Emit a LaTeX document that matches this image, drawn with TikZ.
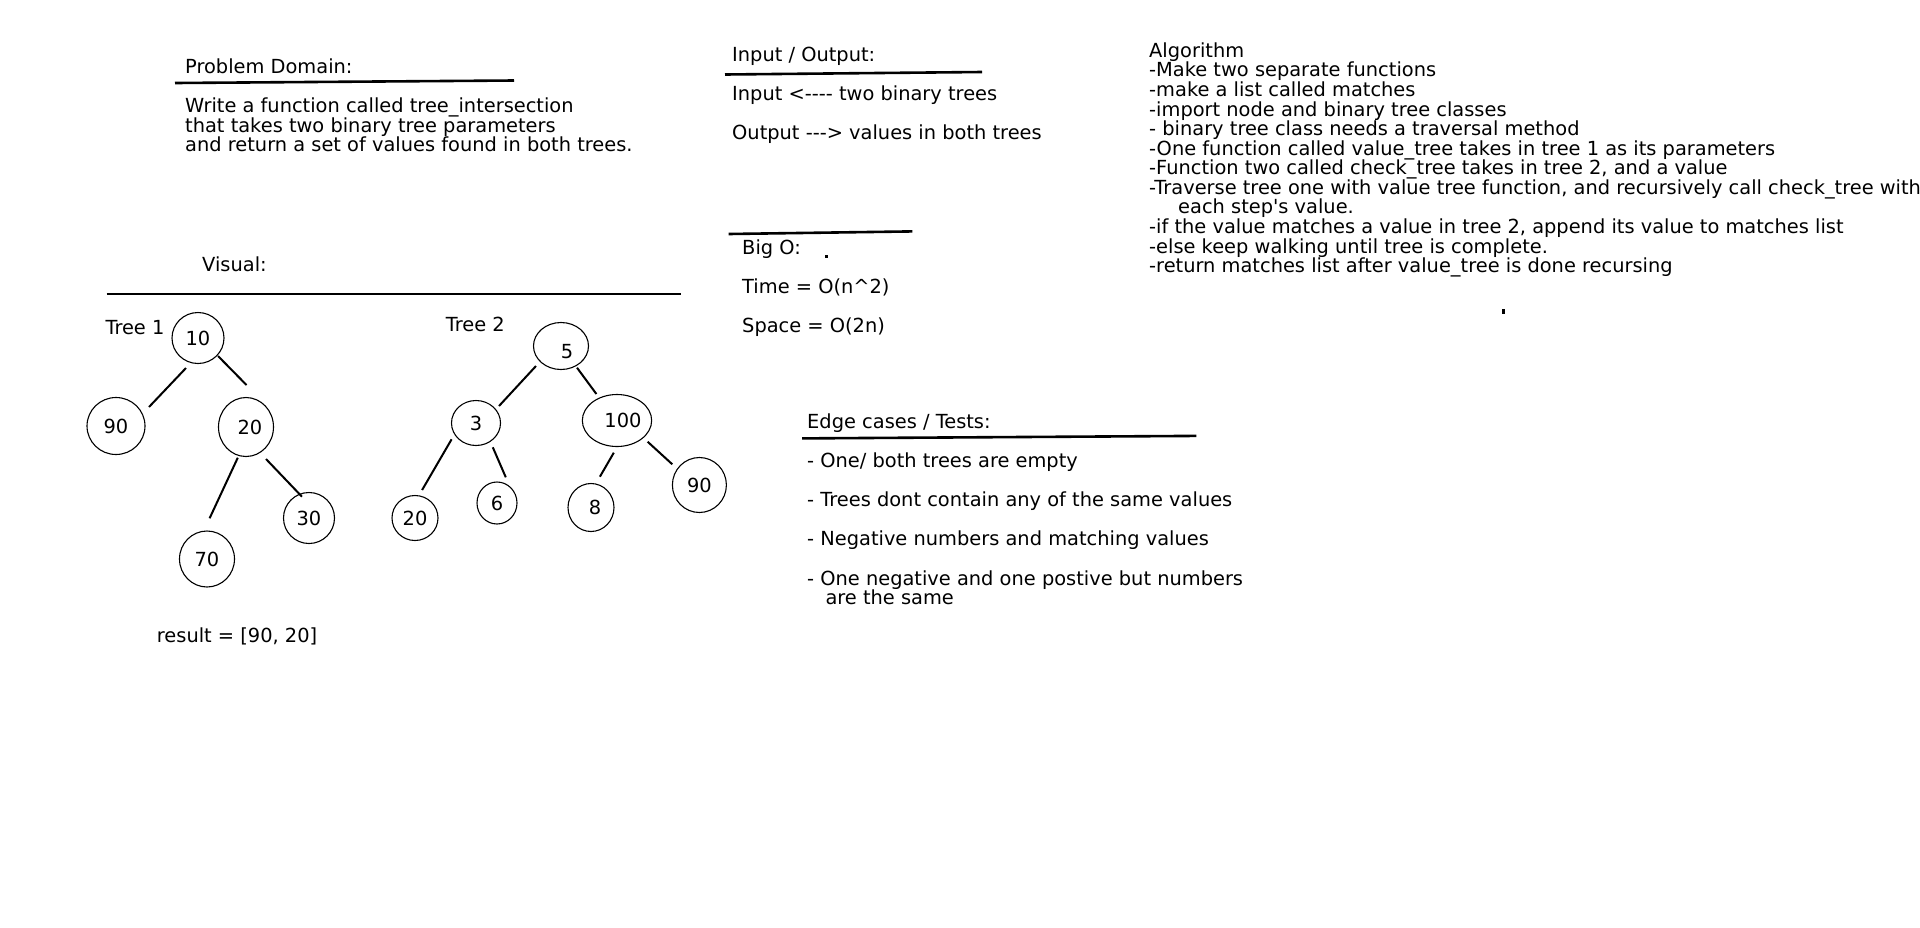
\documentclass[tikz,border=0pt]{standalone}
\usepackage{fontspec}
\newfontfamily\dvsans{DejaVu Sans}
\usetikzlibrary{shapes.geometric}
\begin{document}
\begin{tikzpicture}[x=1pt,y=-1pt,
  txt/.style={anchor=base west,inner sep=0pt,font=\dvsans\fontsize{19.4}{19.6}\selectfont},
  rule/.style={line width=2.6pt},
  treeedge/.style={line width=2pt},
  tnode/.style={draw,ellipse,inner sep=0pt,line width=1.1pt,font=\dvsans\fontsize{19.4}{19.6}\selectfont}]
\useasboundingbox[fill=white] (0,0) rectangle (1920,927);

% Problem domain
\node[txt] (pdh) at (185,73) {Problem Domain:};
\draw[rule] (175,83) -- (514,80.5);
\node[txt] (pd1) at (185,112.5) {Write a function called tree\_intersection};
\node[txt] (pd2) at (185,132) {that takes two binary tree parameters};
\node[txt] (pd3) at (185,151.5) {and return a set of values found in both trees.};

% Input / Output
\node[txt] (ioh) at (732,61) {Input / Output:};
\draw[rule] (725,74.5) -- (982,72);
\node[txt] (io1) at (732,100) {Input <---- two binary trees};
\node[txt] (io2) at (732,139) {Output ---> values in both trees};

% Big O
\draw[rule] (728.6,234) -- (912.3,231.4);
\node[txt] (boh) at (742,254) {Big O:};
\fill (825,255) rectangle (828,258);
\node[txt] (bo1) at (742,293.5) {Time = O(n\textasciicircum 2)};
\node[txt] (bo2) at (742,332.7) {Space = O(2n)};

% Algorithm
\node[txt] (al0) at (1149,57.2) {Algorithm};
\node[txt] (al1) at (1149,76.8) {-Make two separate functions};
\node[txt] (al2) at (1149,96.4) {-make a list called matches};
\node[txt] (al3) at (1149,116) {-import node and binary tree classes};
\node[txt] (al4) at (1149,135.6) {- binary tree class needs a traversal method};
\node[txt] (al5) at (1149,155.2) {-One function called value\_tree takes in tree 1 as its parameters};
\node[txt] (al6) at (1149,174.8) {-Function two called check\_tree takes in tree 2, and a value};
\node[txt] (al7) at (1149,194.4) {-Traverse tree one with value tree function, and recursively call check\_tree with};
\node[txt] (al8) at (1178,213.9) {each step's value.};
\node[txt] (al9) at (1149,233.5) {-if the value matches a value in tree 2, append its value to matches list};
\node[txt] (al10) at (1149,253.1) {-else keep walking until tree is complete.};
\node[txt] (al11) at (1149,272.7) {-return matches list after value\_tree is done recursing};
\fill (1502,309) rectangle (1504.5,314);

% Visual
\node[txt] (vis) at (202,271.5) {Visual:};
\draw[rule] (106.5,294) -- (681,294);
\node[txt] (t1) at (105.3,334) {Tree 1};
\node[txt] (t2) at (445.7,331.5) {Tree 2};

% Tree 1
\node[tnode,minimum width=52pt,minimum height=51pt] (n10) at (198,338) {10};
\node[tnode,minimum width=58pt,minimum height=57pt] (n90a) at (116,426) {90};
\node[tnode,minimum width=55pt,minimum height=59pt] (n20a) at (246,427) {\kern8pt 20};
\node[tnode,minimum width=51pt,minimum height=51pt] (n30) at (309,518) {30};
\node[tnode,minimum width=55pt,minimum height=56pt] (n70) at (207,559) {70};
\draw[treeedge] ([shift={(-12,30)}]n10.center) -- ([shift={(33,-19)}]n90a.center);
\draw[treeedge] ([shift={(20,18)}]n10.center) -- ([shift={(0.5,-42)}]n20a.center);
\draw[treeedge] ([shift={(-8.2,30.7)}]n20a.center) -- ([shift={(2.6,-40.7)}]n70.center);
\draw[treeedge] ([shift={(20,32)}]n20a.center) -- ([shift={(-7,-21.3)}]n30.center);

% Tree 2
\node[tnode,minimum width=55pt,minimum height=47pt,text height=24pt,text depth=0pt] (n5) at (561,346) {\kern12pt 5};
\node[tnode,minimum width=49pt,minimum height=45pt] (n3) at (476,423) {3};
\node[tnode,minimum width=62pt,minimum height=52pt] (n100) at (617,420.5) {\kern12pt 100};
\node[tnode,minimum width=46pt,minimum height=45pt] (n20b) at (415,518) {20};
\node[tnode,minimum width=40pt,minimum height=42pt] (n6) at (497,503) {6};
\node[tnode,minimum width=46pt,minimum height=48pt] (n8) at (591,507.5) {\kern8pt 8};
\node[tnode,minimum width=54pt,minimum height=55pt] (n90b) at (699.4,485) {90};
\draw[treeedge] ([shift={(-25,20)}]n5.center) -- ([shift={(23,-17)}]n3.center);
\draw[treeedge] ([shift={(16,21.7)}]n5.center) -- ([shift={(-20.6,-26.5)}]n100.center);
\draw[treeedge] ([shift={(-24.4,16.3)}]n3.center) -- ([shift={(7.1,-28)}]n20b.center);
\draw[treeedge] ([shift={(16.8,24.3)}]n3.center) -- ([shift={(8.8,-25.7)}]n6.center);
\draw[treeedge] ([shift={(-3.2,32.2)}]n100.center) -- ([shift={(8.9,-30.8)}]n8.center);
\draw[treeedge] ([shift={(30.6,21.2)}]n100.center) -- ([shift={(-27.1,-20.7)}]n90b.center);

\node[txt] (res) at (156.7,642.5) {result = [90, 20]};

% Edge cases
\node[txt] (ech) at (807,428) {Edge cases / Tests:};
\draw[rule] (802,438.4) -- (1196.3,435.9);
\node[txt] (ec1) at (807,467.4) {- One/ both trees are empty};
\node[txt] (ec2) at (807,506.6) {- Trees dont contain any of the same values};
\node[txt] (ec3) at (807,545.8) {- Negative numbers and matching values};
\node[txt] (ec4) at (807,585) {- One negative and one postive but numbers};
\node[txt] (ec5) at (825.3,604.6) {are the same};
\end{tikzpicture}
\end{document}
